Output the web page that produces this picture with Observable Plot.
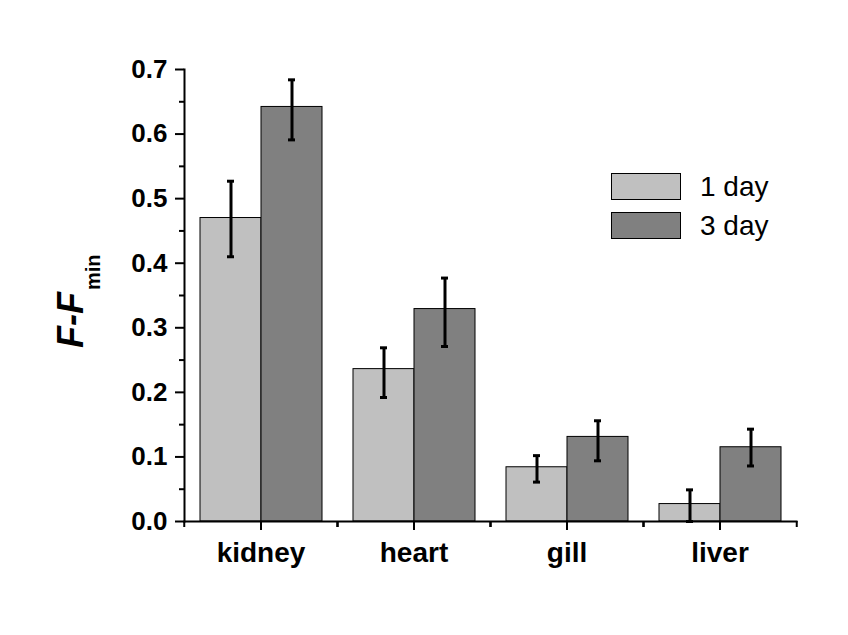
<!DOCTYPE html>
<html>
<head>
<meta charset="utf-8">
<script src="https://cdn.jsdelivr.net/npm/d3@7"></script>
<script src="https://cdn.jsdelivr.net/npm/@observablehq/plot@0.6"></script>
<style>
  html, body { margin: 0; padding: 0; background: white; }
  #wrap { position: relative; width: 848px; height: 635px; font-family: "Liberation Sans", Arial, sans-serif; }
  #legend { position: absolute; left: 611px; top: 167px; }
  .item { display: flex; align-items: center; height: 39px; }
  .sw { width: 68px; height: 25px; border: 1px solid black; box-sizing: content-box; }
  .lab { margin-left: 19px; font-size: 28px; color: black; }
</style>
</head>
<body>
<div id="wrap"></div>
<script>
const organs = ["kidney", "heart", "gill", "liver"];
const series = ["1 day", "3 day"];
const colors = ["#c0c0c0", "#808080"];
const day1 = [0.470, 0.236, 0.084, 0.027];
const day1Low = [0.410, 0.192, 0.061, 0.000];
const day1High = [0.527, 0.269, 0.102, 0.049];
const day3 = [0.642, 0.329, 0.131, 0.115];
const day3Low = [0.591, 0.271, 0.094, 0.086];
const day3High = [0.684, 0.377, 0.156, 0.143];
const yTicks = [0, 0.1, 0.2, 0.3, 0.4, 0.5, 0.6, 0.7];
const yMinor = [0.05, 0.15, 0.25, 0.35, 0.45, 0.55, 0.65];

const data = [];
organs.forEach((o, i) => {
  data.push({organ: o, series: series[0], value: day1[i], low: day1Low[i], high: day1High[i]});
  data.push({organ: o, series: series[1], value: day3[i], low: day3Low[i], high: day3High[i]});
});

const W = 848, H = 635, mL = 183, mR = 51, mT = 69, mB = 114;
const step = (W - mL - mR) / organs.length;

const chart = Plot.plot({
  width: W, height: H,
  marginLeft: mL, marginRight: mR, marginTop: mT, marginBottom: mB,
  style: {fontFamily: "'Liberation Sans', Arial, sans-serif", background: "white", color: "black"},
  fx: {domain: organs, padding: 0, label: null, axis: null},
  x: {domain: series, paddingInner: 0, paddingOuter: 0.25, axis: null},
  y: {domain: [0, 0.7], label: null, axis: null},
  color: {domain: series, range: colors},
  marks: [
    Plot.barY(data, {fx: "organ", x: "series", y: "value", fill: "series", stroke: "black", strokeWidth: 1}),
    Plot.ruleX(data, {fx: "organ", x: "series", y1: "low", y2: "high", stroke: "black", strokeWidth: 3}),
    Plot.tickY(data, {fx: "organ", x: "series", y: "low", stroke: "black", strokeWidth: 3, insetLeft: 27, insetRight: 27}),
    Plot.tickY(data, {fx: "organ", x: "series", y: "high", stroke: "black", strokeWidth: 3, insetLeft: 27, insetRight: 27}),
    Plot.frame({anchor: "bottom", facet: "super", stroke: "black", strokeWidth: 2}),
    Plot.frame({anchor: "left", facet: "super", stroke: "black", strokeWidth: 2}),
    Plot.axisY({ticks: yTicks, tickFormat: d3.format(".1f"), tickSize: 9, tickPadding: 8, strokeWidth: 2, fontSize: 26, fontWeight: "bold", label: null}),
    Plot.axisY({ticks: yMinor, tickSize: 5, strokeWidth: 2, text: null, label: null}),
    Plot.axisFx({anchor: "bottom", tickSize: 9, tickPadding: 12, strokeWidth: 2, fontSize: 28, fontWeight: "bold", label: null}),
    Plot.axisFx({anchor: "bottom", tickSize: 6, strokeWidth: 2, text: null, label: null, dx: -step / 2}),
    Plot.axisFx({anchor: "bottom", tickSize: 6, strokeWidth: 2, text: null, label: null, dx: step / 2})
  ]
});

const wrap = document.getElementById("wrap");
wrap.appendChild(chart);

// y-axis title F-F_min
const svg = d3.select(chart);
const t = svg.append("text")
  .attr("transform", "translate(83,348) rotate(-90)")
  .attr("text-anchor", "start")
  .attr("fill", "black")
  .style("font-family", "'Liberation Sans', Arial, sans-serif");
t.append("tspan").text("F-F").style("font-size", "36px").style("font-weight", "bold").style("font-style", "italic");
t.append("tspan").text("min").attr("dy", 17).attr("dx", 2).style("font-size", "20px").style("font-weight", "bold");

// legend
const lg = document.createElement("div");
lg.id = "legend";
series.forEach((s, i) => {
  const it = document.createElement("div");
  it.className = "item";
  const sw = document.createElement("div");
  sw.className = "sw";
  sw.style.background = colors[i];
  const lb = document.createElement("span");
  lb.className = "lab";
  lb.textContent = s;
  it.appendChild(sw); it.appendChild(lb);
  lg.appendChild(it);
});
wrap.appendChild(lg);
</script>
</body>
</html>
